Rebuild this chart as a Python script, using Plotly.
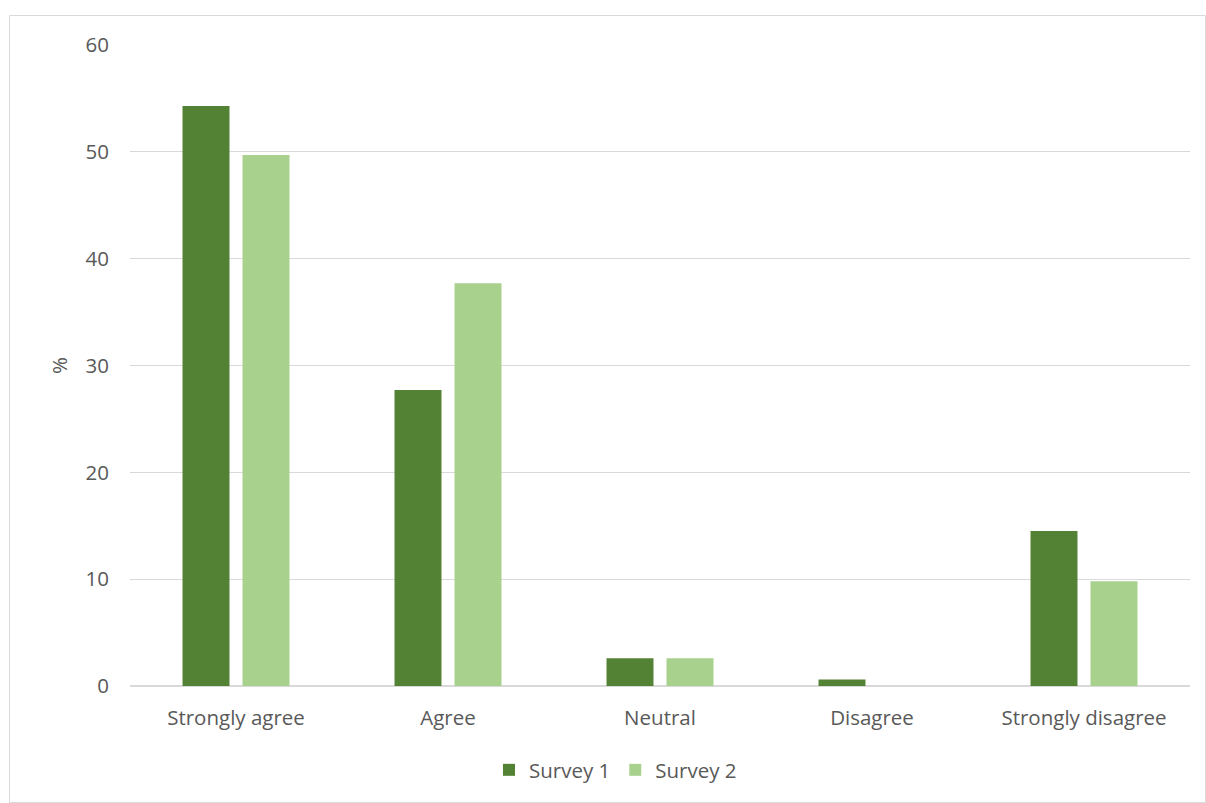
import plotly.graph_objects as go

categories = ["Strongly agree", "Agree", "Neutral", "Disagree", "Strongly disagree"]
survey1 = [54.3, 27.7, 2.6, 0.6, 14.5]
survey2 = [49.7, 37.7, 2.6, 0.0, 9.8]
series_names = ["Survey 1", "Survey 2"]
y_ticks = [0, 10, 20, 30, 40, 50, 60]

c1 = "#548235"
c2 = "#a9d18e"
txt = "#595959"
font_family = "Open Sans, Liberation Sans, sans-serif"
fs = 20.5

fig = go.Figure()
fig.add_trace(go.Bar(x=categories, y=survey1, name=series_names[0], marker_color=c1, marker_line_width=0))
fig.add_trace(go.Bar(x=categories, y=survey2, name=series_names[1], marker_color=c2, marker_line_width=0))

W, H = 1206, 803
L, R, T, B = 130, 16, 45, 117
pw = W - L - R
ph = H - T - B

def px_x(x):
    return (x - L) / pw

def px_y(y):
    return (H - B - y) / ph

fig.update_layout(
    width=W, height=H,
    margin=dict(l=L, r=R, t=T, b=B),
    paper_bgcolor="white", plot_bgcolor="white",
    barmode="group", bargap=0.434, bargroupgap=0.217,
    font=dict(family=font_family, size=fs, color=txt),
    showlegend=True,
    legend=dict(orientation="h", x=px_x(489), xanchor="left", y=px_y(770), yanchor="middle",
                font=dict(size=fs, color=txt), itemwidth=30, traceorder="normal"),
    xaxis=dict(showgrid=False, showline=True, linecolor="#d9d9d9", linewidth=1, ticks="",
               ticklabelstandoff=13, tickfont=dict(size=fs, color=txt)),
    yaxis=dict(range=[0, 60], tickvals=y_ticks, showgrid=True, gridcolor="#d9d9d9", gridwidth=1,
               zeroline=True, zerolinecolor="#d9d9d9", showline=False, ticks="",
               ticklabelstandoff=20, tickfont=dict(size=fs, color=txt),
               title=dict(text="%", font=dict(size=fs, color=txt), standoff=12)),
    shapes=[dict(type="rect", xref="paper", yref="paper",
                 x0=px_x(9.5), x1=px_x(1205.5), y0=px_y(802.5), y1=px_y(15.5),
                 line=dict(color="#d9d9d9", width=1), fillcolor="rgba(0,0,0,0)", layer="below")],
)

fig.write_html("out.html")
